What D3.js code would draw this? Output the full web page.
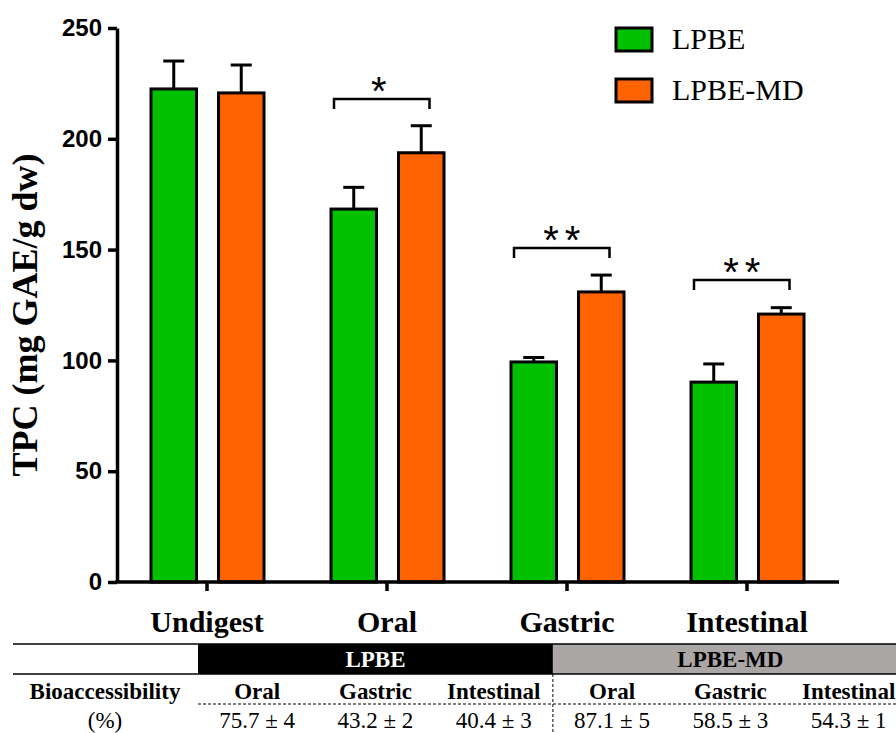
<!DOCTYPE html>
<html>
<head>
<meta charset="utf-8">
<script src="https://cdn.jsdelivr.net/npm/d3@7"></script>
<style>
  body { margin: 0; background: #fff; }
  svg { display: block; }
  .serif { font-family: 'Liberation Serif', 'Times New Roman', Times, 'DejaVu Serif', serif; }
  .sans { font-family: 'Liberation Sans', Arial, Helvetica, sans-serif; }
</style>
</head>
<body>
<div id="chart"></div>
<script>
// Data
const categories = ['Undigest', 'Oral', 'Gastric', 'Intestinal'];
const series = ['LPBE', 'LPBE-MD'];
const lpbeMeans = [222.5, 168.3, 99.3, 90.2];
const lpbeErrors = [12.6, 9.8, 2.0, 8.2];
const lpbeMdMeans = [220.7, 193.7, 130.9, 120.9];
const lpbeMdErrors = [12.6, 12.2, 7.6, 2.9];
const yTicks = [0, 50, 100, 150, 200, 250];

// significance brackets (category, level, label)
const sigCats = ['Oral', 'Gastric', 'Intestinal'];
const sigLevels = [218, 150.7, 136.3];
const sigLabels = ['*', '**', '**'];

// bioaccessibility table
const tableStages = ['Oral', 'Gastric', 'Intestinal'];
const tableLpbe = ['75.7 \u00b1 4', '43.2 \u00b1 2', '40.4 \u00b1 3'];
const tableLpbeMd = ['87.1 \u00b1 5', '58.5 \u00b1 3', '54.3 \u00b1 1'];

const colors = {'LPBE': '#00c000', 'LPBE-MD': '#ff6300'};

const W = 896, H = 733;
const svg = d3.select('#chart').append('svg')
  .attr('width', W).attr('height', H);

// Scales
const x = d3.scaleBand().domain(categories).range([117, 837]);
const xSub = d3.scaleBand().domain(series).range([34, 147]).paddingInner(0.326);
const y = d3.scaleLinear().domain([0, 250]).range([582, 28]);

const rows = categories.map((c, i) => ({
  cat: c,
  vals: [
    {s: 'LPBE', v: lpbeMeans[i], e: lpbeErrors[i]},
    {s: 'LPBE-MD', v: lpbeMdMeans[i], e: lpbeMdErrors[i]}
  ]
}));

const groups = svg.selectAll('g.grp')
  .data(rows)
  .enter().append('g')
  .attr('class', 'grp')
  .attr('transform', d => 'translate(' + x(d.cat) + ',0)');

// error bars (drawn first, bar covers the lower part)
groups.selectAll('g.err')
  .data(d => d.vals)
  .enter().append('g')
  .attr('class', 'err')
  .each(function(d) {
    const g = d3.select(this);
    const cx = xSub(d.s) + xSub.bandwidth() / 2;
    g.append('line')
      .attr('x1', cx).attr('x2', cx)
      .attr('y1', y(d.v)).attr('y2', y(d.v + d.e))
      .attr('stroke', '#000').attr('stroke-width', 3);
    g.append('line')
      .attr('x1', cx - 10.5).attr('x2', cx + 10.5)
      .attr('y1', y(d.v + d.e)).attr('y2', y(d.v + d.e))
      .attr('stroke', '#000').attr('stroke-width', 3);
  });

groups.selectAll('rect')
  .data(d => d.vals)
  .enter().append('rect')
  .attr('x', d => xSub(d.s))
  .attr('y', d => y(d.v))
  .attr('width', xSub.bandwidth())
  .attr('height', d => y(0) - y(d.v))
  .attr('fill', d => colors[d.s])
  .attr('stroke', '#000')
  .attr('stroke-width', 3);

// Axes
const yAxis = svg.append('g')
  .attr('transform', 'translate(117,0)')
  .call(d3.axisLeft(y).tickValues(yTicks).tickSize(9).tickPadding(6).tickSizeOuter(0));
yAxis.attr('font-family', null);
yAxis.select('.domain').attr('stroke-width', 3.5);
yAxis.selectAll('.tick line').attr('stroke-width', 3.5);
yAxis.selectAll('text')
  .attr('class', 'sans').attr('font-weight', 'bold').attr('font-size', 24).attr('fill', '#000');

const xAxis = svg.append('g')
  .attr('transform', 'translate(0,' + y(0) + ')')
  .call(d3.axisBottom(x).tickSize(9).tickSizeOuter(0).tickPadding(20));
xAxis.attr('font-family', null);
xAxis.select('.domain').attr('stroke-width', 3.5).attr('d', 'M115,0H839');
xAxis.selectAll('.tick line').attr('stroke-width', 3.5);
xAxis.selectAll('text')
  .attr('class', 'serif').attr('font-weight', 'bold').attr('font-size', 30).attr('fill', '#000');

// Y title
svg.append('text')
  .attr('class', 'serif')
  .attr('transform', 'translate(37,315) rotate(-90)')
  .attr('text-anchor', 'middle')
  .attr('font-weight', 'bold').attr('font-size', 36)
  .text('TPC (mg GAE/g dw)');

// Significance brackets
sigCats.forEach((c, i) => {
  const x0 = x(c) + xSub('LPBE') + 3;
  const x1 = x(c) + xSub('LPBE-MD') + 31;
  const yy = y(sigLevels[i]);
  svg.append('path')
    .attr('d', 'M' + x0 + ',' + (yy + 10) + 'V' + yy + 'H' + x1 + 'V' + (yy + 10))
    .attr('fill', 'none').attr('stroke', '#000').attr('stroke-width', 2.5);
  svg.append('text')
    .attr('class', 'sans')
    .attr('x', (x0 + x1) / 2 + (sigLabels[i].length - 1) * 3).attr('y', yy + 6)
    .attr('text-anchor', 'middle')
    .attr('font-size', 40)
    .attr('letter-spacing', 6)
    .text(sigLabels[i]);
});

// Legend
const legend = svg.append('g').attr('transform', 'translate(616,28)');
series.forEach((s, i) => {
  legend.append('rect')
    .attr('x', 0).attr('y', i * 51)
    .attr('width', 36).attr('height', 23)
    .attr('fill', colors[s]).attr('stroke', '#000').attr('stroke-width', 3);
  legend.append('text')
    .attr('class', 'serif')
    .attr('x', 56).attr('y', i * 51 + 21)
    .attr('font-size', 30)
    .text(s);
});

// Table
const colW = 118.3;
const tx0 = 198;
const tbl = svg.append('g');
tbl.append('rect').attr('x', tx0).attr('y', 644).attr('width', colW * 3).attr('height', 30).attr('fill', '#000');
tbl.append('rect').attr('x', tx0 + colW * 3).attr('y', 644).attr('width', W - tx0 - colW * 3).attr('height', 30).attr('fill', '#a9a6a5');
tbl.append('line').attr('x1', 13).attr('x2', W).attr('y1', 644).attr('y2', 644).attr('stroke', '#000').attr('stroke-width', 1.5);
tbl.append('line').attr('x1', 13).attr('x2', W).attr('y1', 674).attr('y2', 674).attr('stroke', '#000').attr('stroke-width', 1.5);
tbl.append('line').attr('x1', tx0).attr('x2', W).attr('y1', 704).attr('y2', 704)
  .attr('stroke', '#000').attr('stroke-width', 1).attr('stroke-dasharray', '3,2');
tbl.append('line').attr('x1', tx0 + colW * 3).attr('x2', tx0 + colW * 3).attr('y1', 674).attr('y2', H)
  .attr('stroke', '#000').attr('stroke-width', 1).attr('stroke-dasharray', '3,2');

tbl.append('text').attr('class', 'serif').attr('x', tx0 + colW * 1.5).attr('y', 667).attr('text-anchor', 'middle')
  .attr('font-weight', 'bold').attr('font-size', 23).attr('fill', '#fff').text('LPBE');
tbl.append('text').attr('class', 'serif').attr('x', tx0 + colW * 4.5).attr('y', 667).attr('text-anchor', 'middle')
  .attr('font-weight', 'bold').attr('font-size', 23).attr('fill', '#000').text('LPBE-MD');

tbl.append('text').attr('class', 'serif').attr('x', 105).attr('y', 699).attr('text-anchor', 'middle')
  .attr('font-weight', 'bold').attr('font-size', 23).text('Bioaccessibility');
tbl.append('text').attr('class', 'serif').attr('x', 105).attr('y', 728).attr('text-anchor', 'middle')
  .attr('font-size', 23).text('(%)');

const stageCols = tableStages.concat(tableStages);
const valueCols = tableLpbe.concat(tableLpbeMd);
stageCols.forEach((s, i) => {
  const cx = tx0 + colW * (i + 0.5);
  tbl.append('text').attr('class', 'serif').attr('x', cx).attr('y', 699).attr('text-anchor', 'middle')
    .attr('font-weight', 'bold').attr('font-size', 23).text(s);
  tbl.append('text').attr('class', 'serif').attr('x', cx).attr('y', 728).attr('text-anchor', 'middle')
    .attr('font-size', 23).text(valueCols[i]);
});
</script>
</body>
</html>
